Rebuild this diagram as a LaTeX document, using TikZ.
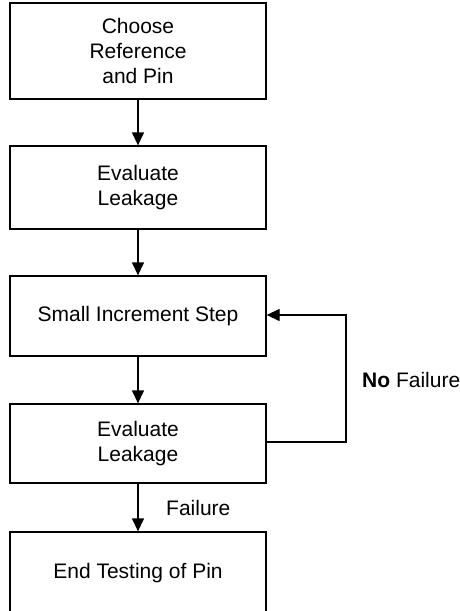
\documentclass[tikz,border=0pt]{standalone}
\usepackage{fontspec}
\setmainfont{Liberation Sans}
\usetikzlibrary{arrows.meta}
\begin{document}
\begin{tikzpicture}[x=1pt,y=-1pt,
  stepbox/.style={draw=black, line width=1.3pt, minimum width=256pt, inner sep=0pt,
    align=center, font=\fontsize{21}{25}\selectfont},
  flow/.style={draw=black, line width=1.3pt, -{Triangle[length=13pt,width=12pt]}},
  lbl/.style={font=\fontsize{21}{25}\selectfont, inner sep=0pt}]
\useasboundingbox (0,0) rectangle (459,611);
\clip (0,0) rectangle (459,611);
\node[stepbox, minimum height=96pt] (choose) at (138,51) {Choose\\Reference\\and Pin};
\node[stepbox, minimum height=83pt] (eval1) at (138,187.5) {Evaluate\\Leakage};
\node[stepbox, minimum height=80pt] (incr) at (138,316) {Small Increment Step};
\node[stepbox, minimum height=79pt] (eval2) at (138,443.5) {Evaluate\\Leakage};
\node[stepbox, minimum height=82pt] (done) at (138,573) {\raisebox{3pt}{End Testing of Pin}};
\coordinate (loopA) at (346,442);
\coordinate (loopB) at (346,315);
\draw[flow] (choose) -- (eval1);
\draw[flow] (eval1) -- (incr);
\draw[flow] (incr) -- (eval2);
\draw[flow] (eval2) -- (done);
\draw[flow] (eval2.east |- loopA) -- (loopA) -- (loopB) -- (incr.east |- loopB);
\node[lbl, anchor=west] (fail) at (166,508) {Failure};
\node[lbl, anchor=west] (nofail) at (362,380) {\textbf{No} Failure};
\end{tikzpicture}
\end{document}
